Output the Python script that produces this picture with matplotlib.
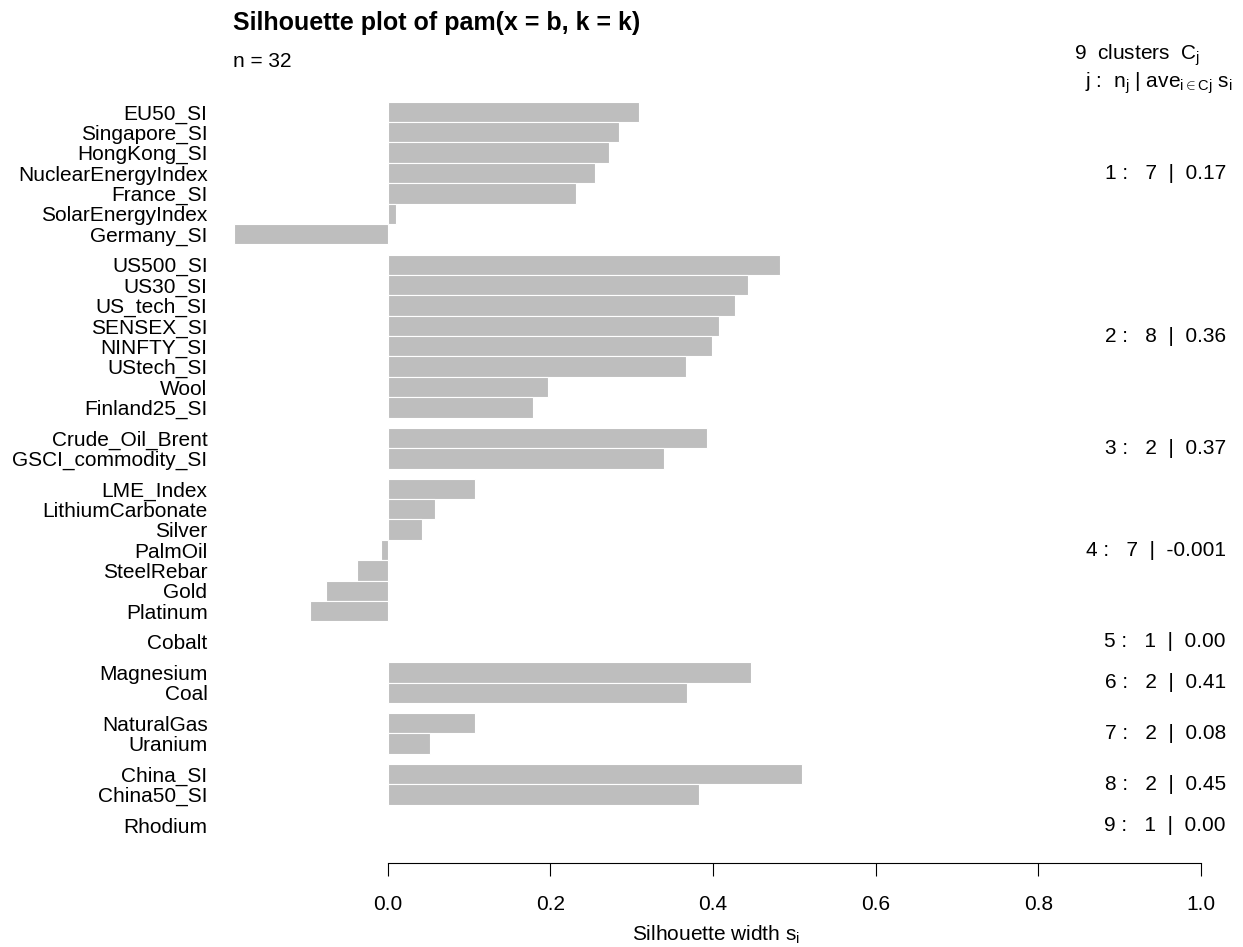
# Silhouette plot of a 9-cluster PAM fit, redrawn in matplotlib (R cluster::plot look)
import matplotlib
matplotlib.use("Agg")
import matplotlib.pyplot as plt
from matplotlib.transforms import blended_transform_factory

names = ["EU50_SI", "Singapore_SI", "HongKong_SI", "NuclearEnergyIndex", "France_SI",
         "SolarEnergyIndex", "Germany_SI",
         "US500_SI", "US30_SI", "US_tech_SI", "SENSEX_SI", "NINFTY_SI", "UStech_SI",
         "Wool", "Finland25_SI",
         "Crude_Oil_Brent", "GSCI_commodity_SI",
         "LME_Index", "LithiumCarbonate", "Silver", "PalmOil", "SteelRebar", "Gold", "Platinum",
         "Cobalt",
         "Magnesium", "Coal",
         "NaturalGas", "Uranium",
         "China_SI", "China50_SI",
         "Rhodium"]
cluster = [1] * 7 + [2] * 8 + [3] * 2 + [4] * 7 + [5] + [6] * 2 + [7] * 2 + [8] * 2 + [9]
sil = [0.309, 0.285, 0.272, 0.255, 0.232, 0.010, -0.189,
       0.483, 0.443, 0.427, 0.408, 0.399, 0.367, 0.197, 0.179,
       0.393, 0.340,
       0.107, 0.059, 0.043, -0.008, -0.038, -0.076, -0.095,
       0.0,
       0.447, 0.368,
       0.108, 0.052,
       0.509, 0.383,
       0.0]
clus_ids = [1, 2, 3, 4, 5, 6, 7, 8, 9]
clus_n = [7, 8, 2, 7, 1, 2, 2, 2, 1]
clus_ave = ["0.17", "0.36", "0.37", "-0.001", "0.00", "0.41", "0.08", "0.45", "0.00"]

plt.rcParams.update({
    "font.family": ["Liberation Sans", "DejaVu Sans"],
    "font.size": 15,
    "mathtext.fontset": "custom",
    "mathtext.rm": "Liberation Sans",
    "mathtext.it": "Liberation Sans:italic",
    "mathtext.bf": "Liberation Sans:bold",
})

W, H = 1243, 947
fig = plt.figure(figsize=(W / 100, H / 100), dpi=100)

# bar slots: 1 unit per bar, half a unit between clusters
pos = []
y = 0.0
for i, c in enumerate(cluster):
    if i > 0 and c != cluster[i - 1]:
        y += 0.5
    pos.append(y + 0.5)
    y += 1.0

# pixel geometry of the reference: x=0 at 387.5px, x=1 at 1201px; first bar top 101.7px, pitch 20.38px
x0, sx = 387.5, 813.5
y0, sy = 101.7, 20.38
xlim = (-0.2, 1.05)
ylim = (37.34, -1.4)
left = x0 + xlim[0] * sx
right = x0 + xlim[1] * sx
top = y0 + ylim[1] * sy
bottom = y0 + ylim[0] * sy
ax = fig.add_axes([left / W, 1 - bottom / H, (right - left) / W, (bottom - top) / H])

ax.barh(pos, sil, height=1.0, color="#bebebe", edgecolor="white", linewidth=0.8,
        clip_on=False, zorder=2)
ax.set_xlim(*xlim)
ax.set_ylim(*ylim)

ax.set_yticks(pos)
ax.set_yticklabels(names, fontsize=15)
ax.tick_params(axis="y", length=0, pad=(left - 207.5) * 0.72)
ax.set_xticks([0.0, 0.2, 0.4, 0.6, 0.8, 1.0])
ax.set_xticklabels(["0.0", "0.2", "0.4", "0.6", "0.8", "1.0"], fontsize=15)
ax.tick_params(axis="x", length=9, width=0.8, pad=14.4, direction="out")
for sp in ["top", "right", "left"]:
    ax.spines[sp].set_visible(False)
ax.spines["bottom"].set_bounds(0, 1)
ax.spines["bottom"].set_linewidth(0.8)

# per-cluster summary on the right
trans = blended_transform_factory(fig.transFigure, ax.transData)
for j, n, a in zip(clus_ids, clus_n, clus_ave):
    yj = sum(p for p, c in zip(pos, cluster) if c == j) / n
    ax.text(1226 / W, yj, f"{j} :   {n}  |  {a}", transform=trans,
            ha="right", va="center", fontsize=15)

fig.text(233 / W, 1 - 30 / H, "Silhouette plot of pam(x = b, k = k)",
         fontsize=18, fontweight="bold", ha="left", va="baseline")
fig.text(233 / W, 1 - 67 / H, "n = 32", fontsize=15, ha="left", va="baseline")
fig.text(1200 / W, 1 - 60 / H, r"9  clusters  $\mathrm{C_j}$",
         fontsize=15, ha="right", va="baseline")
fig.text(1233 / W, 1 - 88 / H,
         r"j :  n$_\mathrm{j}$ | ave$_{\mathrm{i} \in \mathrm{Cj}}$ s$_\mathrm{i}$",
         fontsize=15, ha="right", va="baseline")
fig.text(716 / W, 1 - 941 / H, r"Silhouette width s$_\mathrm{i}$",
         fontsize=15, ha="center", va="baseline")

fig.savefig("out.png", dpi=100, facecolor="white")
